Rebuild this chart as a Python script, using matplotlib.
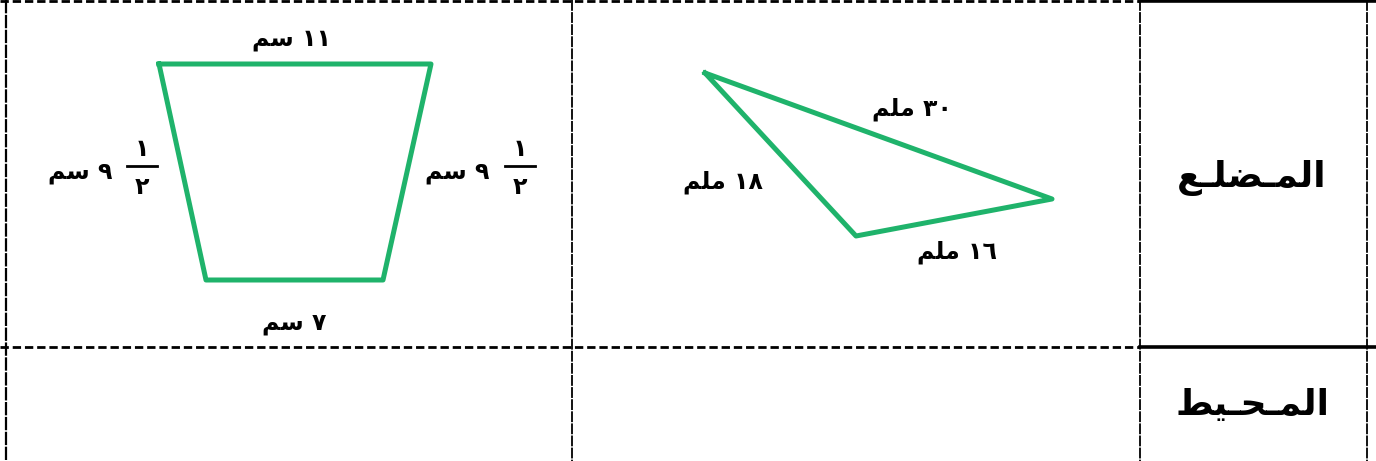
import matplotlib
matplotlib.use("Agg")
import matplotlib.pyplot as plt

# arabic letters -> (isolated, final, initial, medial) presentation forms
FORMS = {
    "ا": (0xFE8D, 0xFE8E, None, None),
    "ل": (0xFEDD, 0xFEDE, 0xFEDF, 0xFEE0),
    "م": (0xFEE1, 0xFEE2, 0xFEE3, 0xFEE4),
    "ض": (0xFEBD, 0xFEBE, 0xFEBF, 0xFEC0),
    "ع": (0xFEC9, 0xFECA, 0xFECB, 0xFECC),
    "ح": (0xFEA1, 0xFEA2, 0xFEA3, 0xFEA4),
    "ي": (0xFEF1, 0xFEF2, 0xFEF3, 0xFEF4),
    "ط": (0xFEC1, 0xFEC2, 0xFEC3, 0xFEC4),
    "س": (0xFEB1, 0xFEB2, 0xFEB3, 0xFEB4),
}
TATWEEL = "ـ"


def joins_left(ch):
    return ch == TATWEEL or (ch in FORMS and FORMS[ch][2] is not None)


def shape(word):
    # crude arabic shaping, returns glyphs in visual (left to right) order
    out = []
    for i, ch in enumerate(word):
        if ch not in FORMS:
            out.append(ch)
            continue
        prev = i > 0 and joins_left(word[i - 1])
        nxt = i < len(word) - 1 and joins_left(ch) and (word[i + 1] in FORMS or word[i + 1] == TATWEEL)
        iso, fin, ini, med = FORMS[ch]
        if prev and nxt:
            code = med
        elif prev:
            code = fin
        elif nxt:
            code = ini
        else:
            code = iso
        out.append(chr(code))
    return "".join(reversed(out))


def label(num, unit):
    # number then unit, read right to left
    return shape(unit) + " " + num


# row headers
headers = ["المـضلـع", "المـحـيط"]
header_pos = [(1252, 178), (1253, 405)]

# trapezoid (cm)
trap_x = [159, 431, 383, 206, 159]
trap_y = [64, 64, 280, 280, 64]
trap_labels = [("١١", "سم"), ("٧", "سم")]
trap_label_pos = [(291, 39), (294, 323)]
mixed_whole = "٩"
mixed_num, mixed_den = "١", "٢"
mixed_pos = [(80, 172, 142), (457, 172, 520)]  # text x, y, fraction x

# triangle (mm)
tri_x = [705, 1052, 856, 705]
tri_y = [73, 199, 236, 73]
tri_labels = [("٣٠", "ملم"), ("١٨", "ملم"), ("١٦", "ملم")]
tri_label_pos = [(912, 109), (723, 182), (957, 252)]

GREEN = "#1fb36b"

fig = plt.figure(figsize=(13.76, 4.61), dpi=100)
ax = fig.add_axes([0, 0, 1, 1])
ax.set_xlim(0, 1376)
ax.set_ylim(461, 0)
ax.axis("off")

# table grid
dash_h = (0, (3, 1.4))
dash_v = (0, (6, 0.7))
ax.plot([0, 1140], [1.5, 1.5], color="black", lw=2, ls=dash_h)
ax.plot([0, 1140], [347, 347], color="black", lw=2, ls=dash_h)
ax.plot([1140, 1376], [1.5, 1.5], color="black", lw=2.6)
ax.plot([1140, 1376], [347, 347], color="black", lw=2.6)
for xv, w in [(6, 1.6), (572, 1.3), (1140, 1.3), (1367, 1.3)]:
    ax.plot([xv, xv], [0, 461], color="black", lw=w, ls=dash_v)

txt = dict(family=["DejaVu Sans"], fontweight="bold", color="black",
           ha="center", va="center")

for (h, (x, y)) in zip(headers, header_pos):
    ax.text(x, y, shape(h), fontsize=26, **txt)

# shapes
ax.plot(trap_x, trap_y, color=GREEN, lw=3.6, solid_joinstyle="round")
ax.plot(tri_x, tri_y, color=GREEN, lw=3.6, solid_joinstyle="round")

for (num, unit), (x, y) in zip(trap_labels, trap_label_pos):
    ax.text(x, y, label(num, unit), fontsize=17, **txt)
for (num, unit), (x, y) in zip(tri_labels, tri_label_pos):
    ax.text(x, y, label(num, unit), fontsize=17, **txt)

for x, y, fx in mixed_pos:
    ax.text(x, y, label(mixed_whole, "سم"), fontsize=17, **txt)
    ax.plot([fx - 15, fx + 15], [166, 166], color="black", lw=2)
    ax.text(fx, 149, mixed_num, fontsize=17, **txt)
    ax.text(fx, 187, mixed_den, fontsize=17, **txt)

fig.savefig("out.png", dpi=100)
